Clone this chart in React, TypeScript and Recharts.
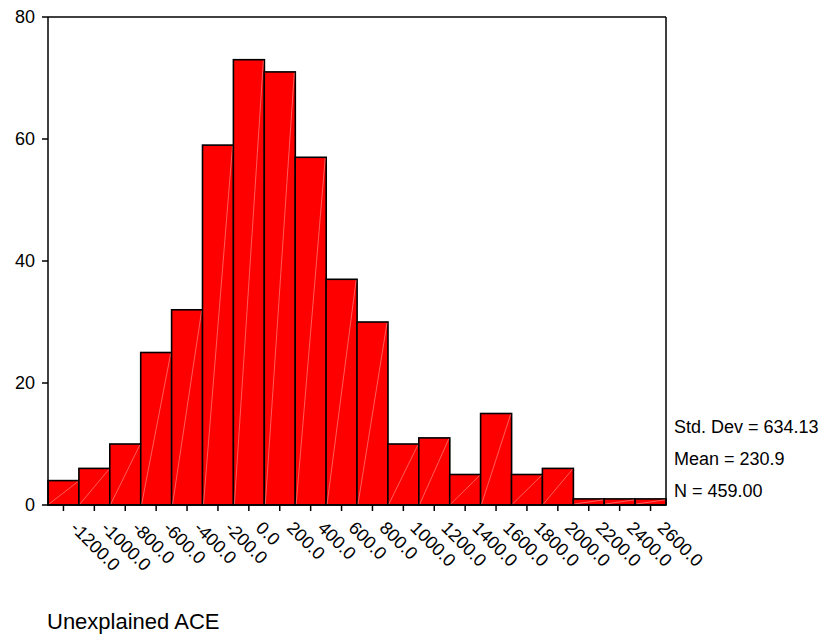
import React from "react";
import { BarChart, Bar, Line, XAxis, YAxis } from "recharts";

const binLabels = [
  "-1200.0", "-1000.0", "-800.0", "-600.0", "-400.0", "-200.0", "0.0", "200.0", "400.0", "600.0",
  "800.0", "1000.0", "1200.0", "1400.0", "1600.0", "1800.0", "2000.0", "2200.0", "2400.0", "2600.0",
];
const counts = [4, 6, 10, 25, 32, 59, 73, 71, 57, 37, 30, 10, 11, 5, 15, 5, 6, 1, 1, 1];
const yTicks = [0, 20, 40, 60, 80];
const stats = ["Std. Dev = 634.13", "Mean = 230.9", "N = 459.00"];
const xTitle = "Unexplained ACE";

const data = binLabels.map((label, i) => ({ label, count: counts[i] }));

const FONT = "'Liberation Sans', Arial, sans-serif";

const HistBar = (props: any) => {
  const { x, y, width, height } = props;
  if (!height) return null;
  return (
    <g>
      <rect x={x} y={y} width={width} height={height} fill="#ff0000" stroke="#000" strokeWidth={1.6} />
      <line x1={x + 1} y1={y + height - 1} x2={x + width - 1} y2={y + 1} stroke="#ff9a9a" strokeWidth={0.6} />
    </g>
  );
};

const XTick = (props: any) => {
  const { x, y, payload } = props;
  return (
    <text
      transform={`translate(${x + 6},${y + 16}) rotate(45)`}
      textAnchor="start"
      fontSize={18}
      fontFamily={FONT}
      fill="#000"
    >
      {payload.value}
    </text>
  );
};

export default function App() {
  // pull back over the body margin so chart coords match the page
  return (
    <div style={{ position: "relative", width: 832, height: 635, marginLeft: -8, marginTop: -8 }}>
      <BarChart
        width={832}
        height={635}
        data={data}
        barCategoryGap={0}
        margin={{ top: 16, right: 165, bottom: 0, left: 0 }}
      >
        <XAxis
          dataKey="label"
          interval={0}
          height={130}
          stroke="#000"
          strokeWidth={1.5}
          tickSize={6}
          tick={<XTick />}
        />
        <XAxis xAxisId="top" dataKey="label" orientation="top" height={1} tick={false} tickLine={false} stroke="#000" strokeWidth={1.5} />
        <YAxis
          domain={[0, 80]}
          ticks={yTicks}
          width={48}
          stroke="#000"
          strokeWidth={1.5}
          tickSize={6}
          tickMargin={7}
          tick={{ fontSize: 18, fontFamily: FONT, fill: "#000" }}
        />
        <YAxis yAxisId="right" orientation="right" domain={[0, 80]} width={1} tick={false} tickLine={false} stroke="#000" strokeWidth={1.5} />
        <Bar dataKey="count" shape={<HistBar />} isAnimationActive={false} />
        <Line xAxisId="top" yAxisId="right" dataKey="count" stroke="none" dot={false} activeDot={false} isAnimationActive={false} />
      </BarChart>
      <svg width={832} height={635} style={{ position: "absolute", left: 0, top: 0, pointerEvents: "none" }}>
        {stats.map((s, i) => (
          <text key={s} x={674} y={433 + i * 32} fontSize={18} fontFamily={FONT} fill="#000">
            {s}
          </text>
        ))}
        <text x={47} y={629} fontSize={22} fontFamily={FONT} fill="#000">
          {xTitle}
        </text>
      </svg>
    </div>
  );
}
